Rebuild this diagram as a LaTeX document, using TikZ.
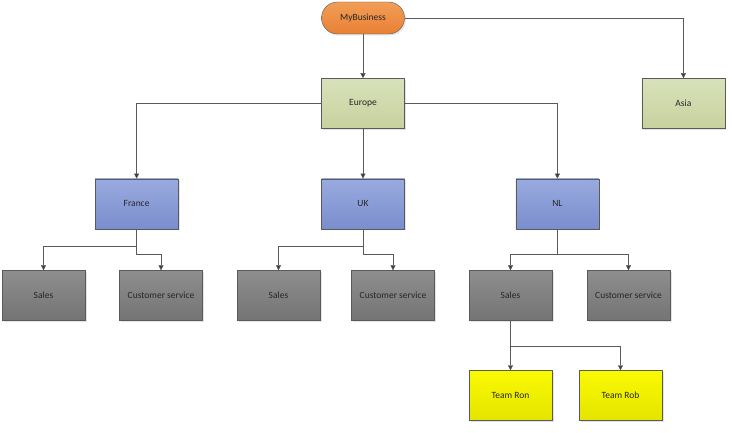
\documentclass[tikz,border=0pt]{standalone}
\usepackage{fontspec}
\setmainfont{Carlito}
\usetikzlibrary{positioning,arrows.meta,shadows}

\definecolor{linegray}{HTML}{5A5A5A}
\definecolor{tipgray}{HTML}{404040}
\definecolor{textgray}{HTML}{262626}

\begin{document}
\begin{tikzpicture}[x=1pt, y=1pt,
				unit/.style={rectangle, draw=linegray, thin, minimum width=83pt, minimum height=50pt,
					font=\fontsize{9.5}{11}\selectfont, text=textgray,
					drop shadow={shadow xshift=1.5pt, shadow yshift=-1.5pt, fill=black!22}},
				root/.style={unit, rounded corners=16pt, minimum height=32pt,
					top color={rgb,255:red,242;green,158;blue,86}, bottom color={rgb,255:red,232;green,128;blue,52}},
				region/.style={unit, top color={rgb,255:red,216;green,225;blue,186}, bottom color={rgb,255:red,199;green,210;blue,158}},
				country/.style={unit, top color={rgb,255:red,153;green,170;blue,222}, bottom color={rgb,255:red,122;green,142;blue,206}},
				dept/.style={unit, top color={rgb,255:red,142;green,142;blue,142}, bottom color={rgb,255:red,116;green,116;blue,116}},
				team/.style={unit, top color={rgb,255:red,250;green,250;blue,0}, bottom color={rgb,255:red,228;green,228;blue,0}}
			]
			\useasboundingbox (0,0) rectangle (732,-433);
			\node[root] (mybusiness) at (363,-18) {MyBusiness};
			\node[region] (europe) [below=44pt of mybusiness] {Europe};
			\node[region] (asia) [right=237pt of europe] {Asia};
			\node[country] (uk) [below=50pt of europe] {UK};
			\node[country] (france) [left=143pt of uk] {France};
			\node[country] (nl) [right=111pt of uk] {NL};
			\node[dept] (salesfr) at (43.5,-295.5) {Sales};
			\node[dept] (csfr) at (161,-295.5) {Customer service};
			\node[dept] (salesuk) at (278.5,-295.5) {Sales};
			\node[dept] (csuk) at (393,-295.5) {Customer service};
			\node[dept] (salesnl) at (510.5,-295.5) {Sales};
			\node[dept] (csnl) at (628.5,-295.5) {Customer service};
			\node[team] (teamron) at (510.5,-395.5) {Team Ron};
			\node[team] (teamrob) at (620.5,-395.5) {Team Rob};
			\begin{scope}[draw=linegray, thin, -{Triangle[length=5pt, width=5pt, fill=tipgray]}]
			\draw (mybusiness.south) -- (europe.north);
			\draw (mybusiness.east) -| (asia.north);
			\draw (europe.west) -| (france.north);
			\draw (europe.south) -- (uk.north);
			\draw (europe.east) -| (nl.north);
			\draw (france.south) -- ++(0,-17) -| (salesfr.north);
			\draw (france.south) -- ++(0,-25) -| (csfr.north);
			\draw (uk.south) -- ++(0,-17) -| (salesuk.north);
			\draw (uk.south) -- ++(0,-25) -| (csuk.north);
			\draw (nl.south) -- ++(0,-25) -| (salesnl.north);
			\draw (nl.south) -- ++(0,-25) -| (csnl.north);
			\draw (salesnl.south) -- (teamron.north);
			\draw (salesnl.south) -- ++(0,-25) -| (teamrob.north);
			\end{scope}
			\end{tikzpicture}
\end{document}
